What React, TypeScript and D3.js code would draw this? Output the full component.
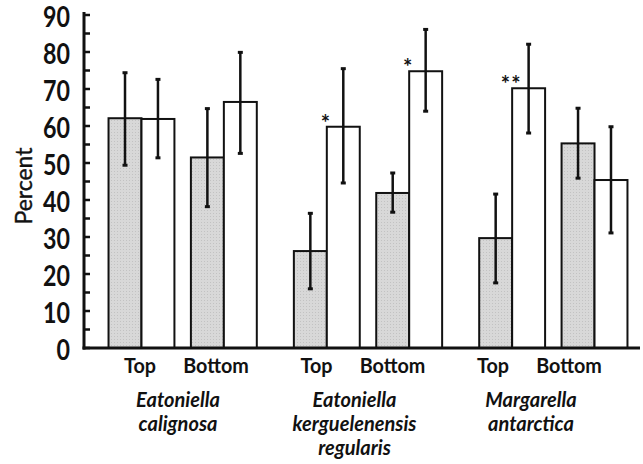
import React from 'react';
import * as d3 from 'd3';

// species along the x axis, each split into two sites
const species = ['Eatoniella calignosa', 'Eatoniella kerguelenensis regularis', 'Margarella antarctica'];
const speciesLines = [['Eatoniella', 'calignosa'], ['Eatoniella', 'kerguelenensis', 'regularis'], ['Margarella', 'antarctica']];
const sites = ['Top', 'Bottom'];
const series = ['shaded', 'open'];

// values in order species x site
const shadedValues = [62.1, 51.5, 26.2, 41.9, 29.7, 55.3];
const shadedHigh = [74.4, 64.7, 36.4, 47.3, 41.6, 64.8];
const shadedLow = [49.4, 38.2, 16.0, 36.7, 17.6, 45.9];
const openValues = [61.9, 66.5, 59.8, 74.8, 70.2, 45.4];
const openHigh = [72.6, 79.9, 75.5, 86.1, 82.1, 59.8];
const openLow = [51.4, 52.6, 44.6, 64.0, 58.1, 31.1];
const significance = ['', '', '*', '*', '**', ''];

const yTicks = d3.range(0, 91, 10);
const yMinor = d3.range(5, 90, 10);

const W = 643, H = 464;
const font = 'Lato, "Open Sans", sans-serif';

export default function App() {
  const y = d3.scaleLinear().domain([0, 90]).range([348, 15]);
  const xGroup = d3.scaleBand().domain(species).range([90, 646]).paddingInner(0.2).paddingOuter(0.1);
  const xSite = d3.scaleBand().domain(sites).range([0, xGroup.bandwidth()]).paddingInner(0.2).paddingOuter(0);
  const xSeries = d3.scaleBand().domain(series).range([0, xSite.bandwidth()]);

  // labels sit slightly left of the bars in the original
  const labelGroup = d3.scalePoint().domain(species).range([178, 531]);
  const labelSite = d3.scalePoint().domain(sites).range([-38, 38]);

  const rows = [];
  species.forEach((sp, i) => {
    sites.forEach((site, j) => {
      const k = i * sites.length + j;
      rows.push({ sp, site, k });
    });
  });

  const bw = xSeries.bandwidth();

  return (
    <svg width={W} height={H} style={{ position: 'absolute', left: 0, top: 0, background: '#fff' }}>
      <defs>
        <pattern id="stipple" width="3" height="3" patternUnits="userSpaceOnUse">
          <rect width="3" height="3" fill="#d8d8d8" />
          <rect width="1" height="1" fill="#c2c2c2" />
        </pattern>
      </defs>

      {/* bars */}
      {rows.map(({ sp, site, k }) => {
        const x0 = xGroup(sp) + xSite(site);
        const xs = x0 + xSeries('shaded');
        const xo = x0 + xSeries('open');
        return (
          <g key={k}>
            <rect x={xs} y={y(shadedValues[k])} width={bw} height={y(0) - y(shadedValues[k])}
              fill="url(#stipple)" stroke="#111" strokeWidth={2} />
            <rect x={xo} y={y(openValues[k])} width={bw} height={y(0) - y(openValues[k])}
              fill="#fff" stroke="#111" strokeWidth={2} />
            {[[xs, shadedHigh[k], shadedLow[k]], [xo, openHigh[k], openLow[k]]].map(([bx, hi, lo], n) => {
              const cx = bx + bw / 2;
              return (
                <g key={n} stroke="#111">
                  <line x1={cx} x2={cx} y1={y(hi)} y2={y(lo)} strokeWidth={2.5} />
                  <line x1={cx - 2.5} x2={cx + 2.5} y1={y(hi)} y2={y(hi)} strokeWidth={3} />
                  <line x1={cx - 2.5} x2={cx + 2.5} y1={y(lo)} y2={y(lo)} strokeWidth={3} />
                </g>
              );
            })}
            {significance[k] && (
              <text x={xo - 1} y={y(openValues[k]) + 4} textAnchor="middle" fontFamily={font}
                fontWeight="bold" fontSize={22} fill="#111" letterSpacing={1}>{significance[k]}</text>
            )}
          </g>
        );
      })}

      {/* y axis */}
      <line x1={84} x2={84} y1={12} y2={349.5} stroke="#111" strokeWidth={3} />
      {yTicks.concat(yMinor).map(t => (
        <line key={'t' + t} x1={83} x2={90} y1={y(t)} y2={y(t)} stroke="#111" strokeWidth={2.5} />
      ))}
      {yTicks.map(t => (
        <text key={'l' + t} transform={`translate(70,${y(t) + 12}) scale(0.83,1)`} textAnchor="end"
          fontFamily={font} fontWeight="bold" fontSize={28} fill="#111">{t}</text>
      ))}
      <text transform={`translate(32,${186}) rotate(-90)`} textAnchor="middle" fontFamily={font}
        fontSize={23} fill="#111" stroke="#111" strokeWidth={0.4}>Percent</text>

      {/* x axis */}
      <line x1={82.5} x2={640} y1={348} y2={348} stroke="#111" strokeWidth={3} />
      {rows.map(({ sp, site, k }) => (
        <text key={'s' + k} transform={`translate(${labelGroup(sp) + labelSite(site)},373) scale(0.94,1)`}
          textAnchor="middle" fontFamily={font} fontWeight="bold" fontSize={21} fill="#111">{site}</text>
      ))}
      {species.map((sp, i) => (
        <g key={sp}>
          {speciesLines[i].map((ln, n) => (
            <text key={n} x={labelGroup(sp)} y={407 + n * 24}
              textAnchor="middle" fontFamily={font} fontWeight="bold" fontStyle="italic" fontSize={20}
              fill="#111">{ln}</text>
          ))}
        </g>
      ))}
    </svg>
  );
}
